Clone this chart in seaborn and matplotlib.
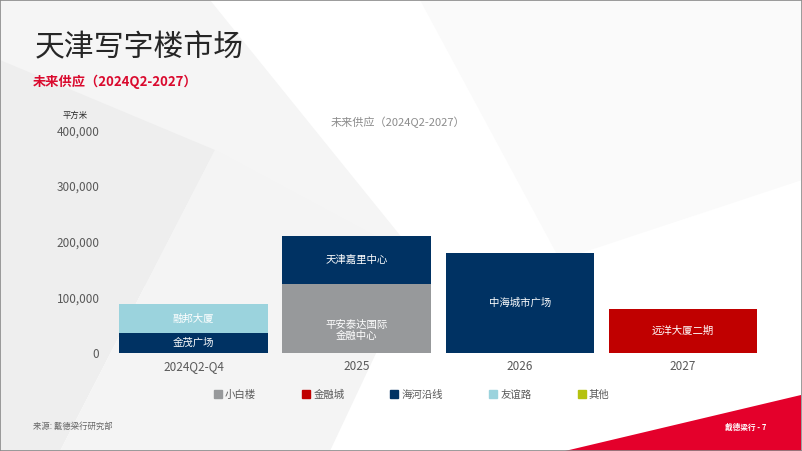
import matplotlib
matplotlib.use("Agg")
import matplotlib.pyplot as plt
from matplotlib.lines import Line2D
from matplotlib.patches import Polygon, Rectangle
import pandas as pd
import seaborn as sns

sns.set_theme(style="white")
plt.rcParams['font.family'] = ['Noto Sans CJK SC', 'DejaVu Sans']

# data
periods = ["2024Q2-Q4", "2025", "2026", "2027"]
regions = ["小白楼", "金融城", "海河沿线", "友谊路", "其他"]
region_colors = ["#97999b", "#c00000", "#003263", "#9bd3dd", "#b5c20f"]
projects = ["金茂广场", "融邦大厦", "平安泰达国际\n金融中心", "天津嘉里中心", "中海城市广场", "远洋大厦二期"]
project_period = ["2024Q2-Q4", "2024Q2-Q4", "2025", "2025", "2026", "2027"]
project_region = ["海河沿线", "友谊路", "小白楼", "海河沿线", "海河沿线", "金融城"]
project_area = [36000, 52000, 124000, 87000, 180000, 79000]
y_ticks = [0, 100000, 200000, 300000, 400000]

df = pd.DataFrame({"project": projects, "period": project_period,
                   "region": project_region, "area": project_area})
df["top"] = df.groupby("period")["area"].cumsum()
df["bottom"] = df["top"] - df["area"]
df["level"] = df.groupby("period").cumcount()
palette = dict(zip(regions, region_colors))

W, H = 802, 451
fig = plt.figure(figsize=(W / 100, H / 100), dpi=100)
fig.patch.set_facecolor("white")

# faint background shapes like the slide template
def px(points):
    return [(x / W, 1 - y / H) for x, y in points]

def shape(points, color, z=-2):
    fig.patches.append(Polygon(px(points), closed=True, facecolor=color, edgecolor="none",
                               transform=fig.transFigure, zorder=z))

shape([(0, 0), (210, 0), (420, 260), (0, 300)], "#f5f5f5")
shape([(0, 60), (215, 150), (60, 451), (0, 451)], "#eeeeee")
shape([(215, 150), (420, 260), (330, 451), (60, 451)], "#f4f4f4")
shape([(420, 0), (802, 0), (802, 180), (560, 260)], "#fafafa")
# red corner
shape([(565, 451), (801, 395), (801, 451)], "#e4002b", z=-1)
fig.patches.append(Rectangle((0, 0), 1, 1, fill=False, edgecolor="#8a8a8a", linewidth=1.2,
                             transform=fig.transFigure, zorder=5))

ax = fig.add_axes([112 / W, 1 - 353 / H, (764.5 - 112) / W, (353 - 130.5) / H])
ax.patch.set_alpha(0)

# stacked bars: draw upper cumulative totals first, lower ones on top
for level in sorted(df["level"].unique(), reverse=True):
    sub = df[df["level"] == level]
    sns.barplot(data=sub, x="period", y="top", hue="region", order=periods,
                hue_order=regions, palette=palette, dodge=False, width=0.91,
                saturation=1, errorbar=None, legend=False, linewidth=0, ax=ax)

for _, r in df.iterrows():
    xi = periods.index(r["period"])
    yc = r["bottom"] + r["area"] * (0.33 if "\n" in r["project"] else 0.5)
    ax.text(xi, yc, r["project"], ha="center", va="center", color="white",
            fontsize=7.5, linespacing=1.1)

ax.set_xlim(-0.5, 3.5)
ax.set_ylim(0, 400000)
ax.set_yticks(y_ticks)
ax.set_yticklabels([f"{v:,}" for v in y_ticks])
ax.set_xlabel("")
ax.set_ylabel("")
ax.tick_params(axis="y", length=0, pad=9, labelsize=8.5, labelcolor="#595959")
ax.tick_params(axis="x", length=0, pad=5, labelsize=8.5, labelcolor="#595959")
sns.despine(ax=ax, left=True, bottom=True)
ax.grid(False)

# titles and notes
fig.text(35 / W, 1 - 48 / H, "天津写字楼市场", fontsize=21.5, color="#262626", va="center")
fig.text(33 / W, 1 - 82 / H, "未来供应（2024Q2-2027）", fontsize=9.5, color="#da0a2e",
         fontweight="bold", va="center")
fig.text(398 / W, 1 - 122 / H, "未来供应（2024Q2-2027）", fontsize=8, color="#8c8c8c",
         ha="center", va="center")
fig.text(75 / W, 1 - 115 / H, "平方米", fontsize=6, color="#262626", ha="center", va="center")
fig.text(33 / W, 1 - 426 / H, "来源: 戴德梁行研究部", fontsize=6, color="#666666", va="center")
fig.text(725 / W, 1 - 427 / H, "戴德梁行 - 7", fontsize=5.5, color="white", fontweight="bold",
         va="center", zorder=6)

handles = [Line2D([0], [0], marker="s", linestyle="none", markersize=5.5,
                  markerfacecolor=c, markeredgecolor=c) for c in region_colors]
leg = fig.legend(handles, regions, loc="center", bbox_to_anchor=(411 / W, 1 - 395 / H),
                 ncol=5, frameon=False, fontsize=7.5, handletextpad=0.2,
                 columnspacing=4.3, handlelength=1.0)
for t in leg.get_texts():
    t.set_color("#595959")

fig.savefig("out.png", dpi=100)
